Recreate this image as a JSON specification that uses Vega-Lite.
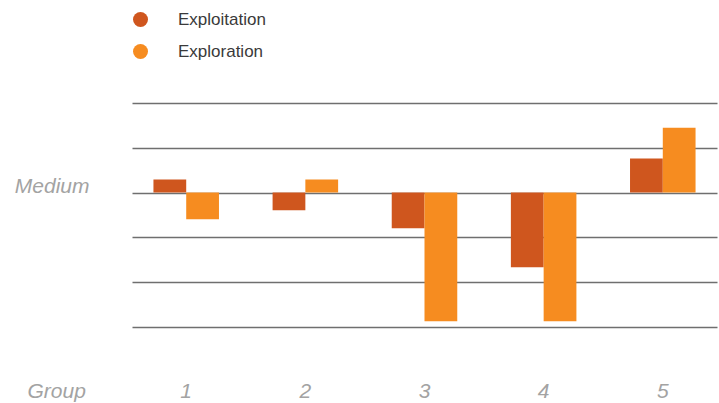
{
  "$schema": "https://vega.github.io/schema/vega-lite/v6.json",
  "autosize": {"type": "none"},
  "padding": {"left": 132, "top": 103, "right": 2, "bottom": 76},
  "width": 585,
  "height": 224,
  "config": {"view": {"stroke": null}, "font": "Liberation Sans"},
  "data": {"values": [
    {"Group": "1", "Series": "Exploitation", "Value": 0.29},
    {"Group": "1", "Series": "Exploration", "Value": -0.596},
    {"Group": "2", "Series": "Exploitation", "Value": -0.395},
    {"Group": "2", "Series": "Exploration", "Value": 0.29},
    {"Group": "3", "Series": "Exploitation", "Value": -0.797},
    {"Group": "3", "Series": "Exploration", "Value": -2.873},
    {"Group": "4", "Series": "Exploitation", "Value": -1.667},
    {"Group": "4", "Series": "Exploration", "Value": -2.873},
    {"Group": "5", "Series": "Exploitation", "Value": 0.759},
    {"Group": "5", "Series": "Exploration", "Value": 1.45}
  ]},
  "mark": {"type": "bar"},
  "encoding": {
    "x": {
      "field": "Group", "type": "nominal",
      "scale": {"paddingInner": 0.45, "paddingOuter": 0.18},
      "axis": {
        "domain": false, "ticks": false, "labelAngle": 0,
        "labelFont": "Liberation Sans", "labelFontStyle": "italic", "labelFontSize": 21,
        "labelColor": "#a3a3a3", "labelPadding": 70, "labelBaseline": "alphabetic",
        "title": "Group", "titleFont": "Liberation Sans", "titleFontStyle": "italic",
        "titleFontWeight": "normal", "titleFontSize": 21, "titleColor": "#a3a3a3",
        "titleX": -105, "titleY": 70, "titleAlign": "left", "titleBaseline": "alphabetic"
      }
    },
    "xOffset": {"field": "Series", "type": "nominal", "scale": {"paddingInner": 0, "paddingOuter": 0}},
    "y": {
      "field": "Value", "type": "quantitative",
      "scale": {"domain": [-3, 2], "nice": false},
      "axis": {
        "values": [-3, -2, -1, 0, 1, 2],
        "labelExpr": "datum.value == 0 ? 'Medium' : ''",
        "domain": false, "ticks": false, "title": null,
        "grid": true, "gridColor": "#6f6f6f", "gridWidth": 1.5,
        "labelFont": "Liberation Sans", "labelFontStyle": "italic", "labelFontSize": 21,
        "labelColor": "#a3a3a3", "labelPadding": 43, "labelBaseline": "alphabetic", "labelOffset": 0
      }
    },
    "color": {
      "field": "Series", "type": "nominal",
      "scale": {"domain": ["Exploitation", "Exploration"], "range": ["#CF561E", "#F68C20"]},
      "legend": {
        "title": null, "orient": "none", "legendX": 0, "legendY": -92,
        "direction": "vertical", "symbolType": "circle", "symbolSize": 225,
        "symbolStrokeWidth": 0, "symbolOpacity": 1,
        "labelFont": "Liberation Sans", "labelFontSize": 17, "labelColor": "#3a3a3a",
        "labelOffset": 29, "rowPadding": 14
      }
    }
  }
}
